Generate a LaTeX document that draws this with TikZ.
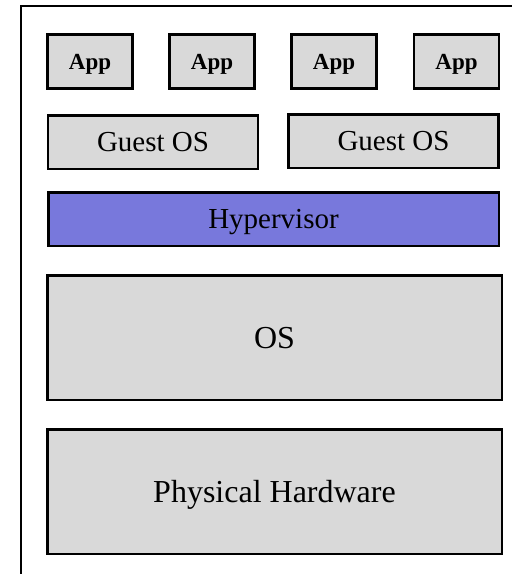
\documentclass[tikz,border=0pt]{standalone}
\usepackage{fontspec}
\setmainfont{Liberation Serif}
\definecolor{boxgray}{HTML}{D9D9D9}
\definecolor{hypblue}{HTML}{7878DC}
\tikzset{
  layer/.style={draw=black, line width=2.5pt, fill=boxgray, inner sep=0pt, text depth=0pt, anchor=center},
  appbox/.style={layer, minimum width=85pt, minimum height=54pt, font=\fontsize{23}{26}\selectfont\bfseries},
  guestbox/.style={layer, minimum width=210pt, minimum height=53.5pt, font=\fontsize{29}{32}\selectfont},
  hypbox/.style={layer, fill=hypblue, minimum width=450.5pt, minimum height=53.5pt, font=\fontsize{29}{32}\selectfont},
  bigbox/.style={layer, minimum width=454.5pt, minimum height=124.5pt, font=\fontsize{32}{36}\selectfont}
}
\begin{document}
\begin{tikzpicture}[x=1pt,y=-1pt]
\useasboundingbox (0,0) rectangle (512,574);
\draw[line width=2pt] (21,580) -- (21,6) -- (520,6);
\node[appbox] (app1) at (90,61.5) {App};
\node[appbox] (app2) at (212,61.5) {App};
\node[appbox] (app3) at (334,61.5) {App};
\node[appbox] (app4) at (456.5,61.5) {App};
\node[guestbox] (guest1) at (153,142) {Guest OS};
\node[guestbox] (guest2) at (393.5,141) {Guest OS};
\node[hypbox] (hyp) at (273.5,219) {Hypervisor};
\node[bigbox] (os) at (274.5,337.5) {OS};
\node[bigbox] (hw) at (274.5,491.5) {Physical Hardware};
\end{tikzpicture}
\end{document}
